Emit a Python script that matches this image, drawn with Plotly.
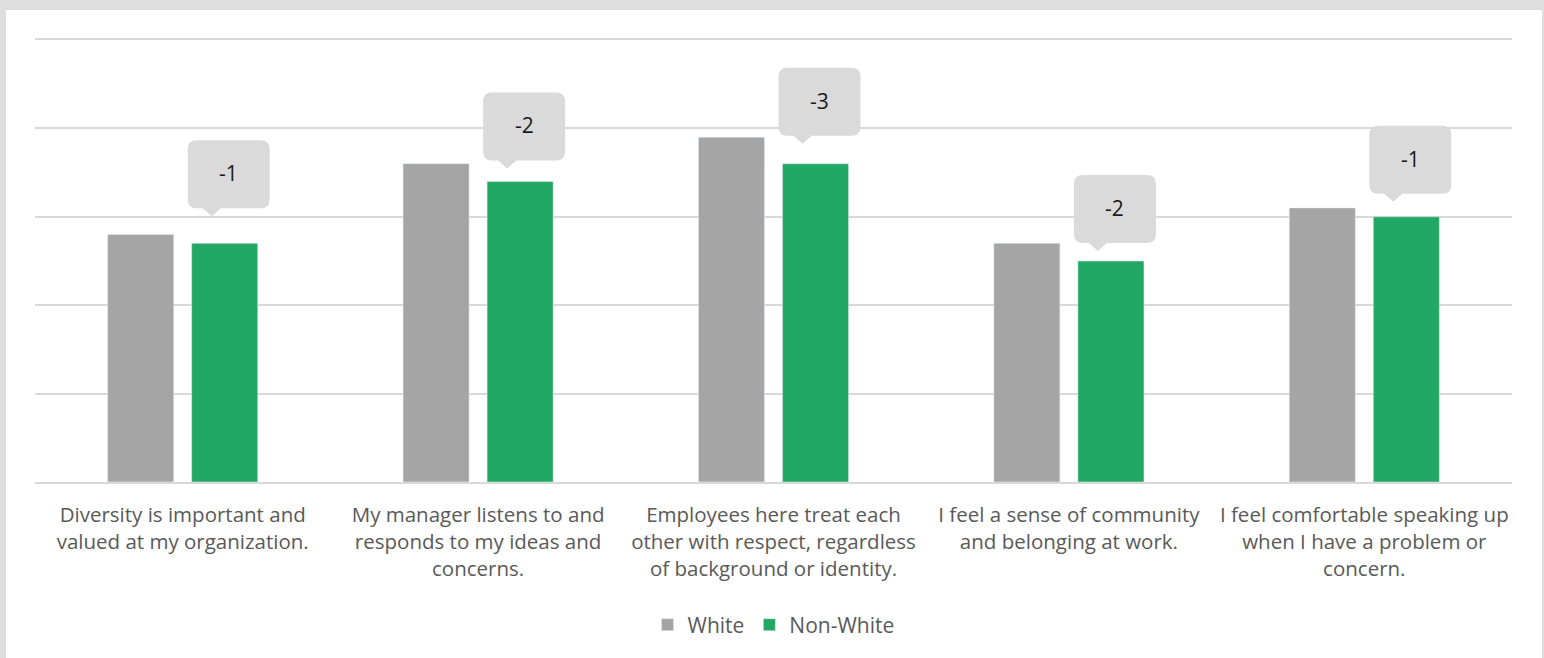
import plotly.graph_objects as go

# Survey statements and average agreement scores by group
questions = [
    "Diversity is important and<br>valued at my organization.",
    "My manager listens to and<br>responds to my ideas and<br>concerns.",
    "Employees here treat each<br>other with respect, regardless<br>of background or identity.",
    "I feel a sense of community<br>and belonging at work.",
    "I feel comfortable speaking up<br>when I have a problem or<br>concern.",
]
white = [28, 36, 39, 27, 31]
non_white = [27, 34, 36, 25, 30]
gap = [n - w for n, w in zip(non_white, white)]

# Canvas and plot-area geometry (pixels)
W, H = 1544, 658
L, R, T, B = 35, 32, 40, 176
PW, PH = W - L - R, H - T - B

FONT = "Open Sans"
TEXT_COLOR = "#595959"
GRID_COLOR = "#d9d9d9"
GRAY = "#a5a5a5"
GREEN = "#22a862"
BUBBLE = "#dadada"

BARGAP = 0.431
BARGROUPGAP = 0.214
green_offset = (1 - BARGAP) / 4  # centre of the second bar in each group

# how far each callout's pointer sits above its bar (px)
callout_lift = [27, 13, 20, 10, 15]

x = list(range(len(questions)))

fig = go.Figure()
fig.add_trace(go.Bar(name="White", x=x, y=white, marker_color=GRAY))
fig.add_trace(go.Bar(name="Non-White", x=x, y=non_white, marker_color=GREEN))


def bubble_path(lift, left=-37, right=45, tip_x=-13, base_l=-22, base_r=-4,
                ptr_h=8, box_h=68, r=9):
    bot = lift + ptr_h
    top = bot + box_h
    return (
        f"M {tip_x},{lift} L {base_l},{bot} L {left + r},{bot} "
        f"Q {left},{bot} {left},{bot + r} L {left},{top - r} "
        f"Q {left},{top} {left + r},{top} L {right - r},{top} "
        f"Q {right},{top} {right},{top - r} L {right},{bot + r} "
        f"Q {right},{bot} {right - r},{bot} L {base_r},{bot} Z"
    )


shapes = []
annotations = []
for i, (v, d, lift) in enumerate(zip(non_white, gap, callout_lift)):
    shapes.append(dict(
        type="path", xref="x", yref="y",
        xsizemode="pixel", ysizemode="pixel",
        xanchor=i + green_offset, yanchor=v,
        path=bubble_path(lift),
        fillcolor=BUBBLE, line=dict(width=0), layer="above",
    ))
    annotations.append(dict(
        x=i + green_offset, y=v, xref="x", yref="y",
        text=str(d), showarrow=False,
        xshift=4, yshift=lift + 8 + 35,
        font=dict(family=FONT, size=21, color="#1a1a1a"),
    ))


# gray frame around the white chart card
def px_x(p):
    return (p - L) / PW


def px_y(p):
    return (H - B - p) / PH


frame = [(0, 0, W, 10), (0, 0, 6, H), (1542, 0, W, H)]
for x0, y0, x1, y1 in frame:
    shapes.append(dict(
        type="rect", xref="paper", yref="paper",
        x0=px_x(x0), x1=px_x(x1), y0=px_y(y1), y1=px_y(y0),
        fillcolor="#dedede", line=dict(width=0), layer="below",
    ))

fig.update_layout(
    width=W, height=H,
    margin=dict(l=L, r=R, t=T, b=B, pad=0),
    paper_bgcolor="white", plot_bgcolor="white",
    barmode="group", bargap=BARGAP, bargroupgap=BARGROUPGAP,
    font=dict(family=FONT, size=21, color=TEXT_COLOR),
    showlegend=True,
    legend=dict(
        orientation="h", x=0.5, xanchor="center", y=px_y(625), yanchor="middle",
        font=dict(family=FONT, size=21, color=TEXT_COLOR),
        bgcolor="rgba(0,0,0,0)",
    ),
    shapes=shapes,
    annotations=annotations,
)
fig.update_xaxes(
    range=[-0.5, len(questions) - 0.5],
    tickvals=x, ticktext=questions,
    showgrid=False, zeroline=False,
    showline=True, mirror=True, linecolor=GRID_COLOR, linewidth=1.5,
    ticks="", ticklabelstandoff=14,
    tickfont=dict(family=FONT, size=20.5, color=TEXT_COLOR),
)
fig.update_yaxes(
    range=[0, 50], dtick=10,
    showgrid=True, gridcolor=GRID_COLOR, gridwidth=1.5,
    zeroline=False, showticklabels=False, ticks="",
)

fig.write_html("out.html")
